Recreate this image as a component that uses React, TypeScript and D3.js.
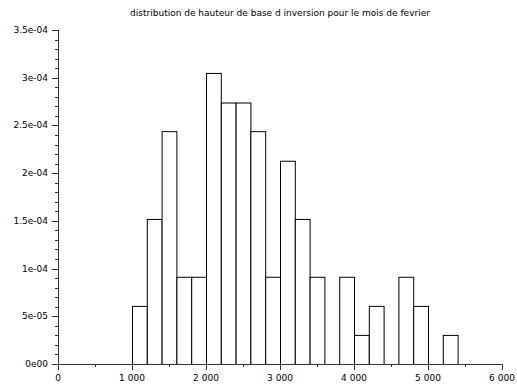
import React from "react";
import * as d3 from "d3";

const title = "distribution de hauteur de base d inversion pour le mois de fevrier";
const binStarts = [1000, 1200, 1400, 1600, 1800, 2000, 2200, 2400, 2600, 2800, 3000, 3200, 3400, 3600, 3800, 4000, 4200, 4400, 4600, 4800, 5000, 5200];
const densities = [6.09e-5, 1.52e-4, 2.44e-4, 9.14e-5, 9.14e-5, 3.05e-4, 2.74e-4, 2.74e-4, 2.44e-4, 9.14e-5, 2.13e-4, 1.52e-4, 9.14e-5, 0, 9.14e-5, 3.05e-5, 6.09e-5, 0, 9.14e-5, 6.09e-5, 0, 3.05e-5];
const binWidth = 200;
const xTicks = [0, 1000, 2000, 3000, 4000, 5000, 6000];
const xTickLabels = ["0", "1 000", "2 000", "3 000", "4 000", "5 000", "6 000"];
const yTicks = [0, 5e-5, 1e-4, 1.5e-4, 2e-4, 2.5e-4, 3e-4, 3.5e-4];
const yTickLabels = ["0e00", "5e-05", "1e-04", "1.5e-04", "2e-04", "2.5e-04", "3e-04", "3.5e-04"];

export default function App() {
  const W = 517, H = 390;
  const x = d3.scaleLinear().domain([0, 6000]).range([58, 502]);
  const y = d3.scaleLinear().domain([0, 3.5e-4]).range([364, 30]);
  const yMinor = d3.range(0, 36).map((i) => i * 1e-5).filter((_, i) => i % 5 !== 0);
  const xMinor = d3.range(0, 6).map((i) => i * 1000 + 500);
  const font = "DejaVu Sans, sans-serif";
  return (
    <svg width={W} height={H} style={{ position: "absolute", left: 0, top: 0, background: "#fff" }}>
      <rect x={0} y={0} width={W} height={H} fill="#fff" />
      <text x={280} y={16} textAnchor="middle" fontFamily={font} fontSize={9} fill="#000">{title}</text>
      {binStarts.map((b, i) =>
        densities[i] > 0 ? (
          <rect key={i} x={x(b) + 0.5} y={y(densities[i]) + 0.5} width={x(b + binWidth) - x(b)} height={y(0) - y(densities[i])}
            fill="#fff" stroke="#000" strokeWidth={1} />
        ) : null
      )}
      <line x1={58.5} x2={58.5} y1={30} y2={364.5} stroke="#333" />
      <line x1={58} x2={502.5} y1={364.5} y2={364.5} stroke="#333" />
      {yTicks.map((t, i) => (
        <g key={i}>
          <line x1={52} x2={58.5} y1={Math.round(y(t)) + 0.5} y2={Math.round(y(t)) + 0.5} stroke="#333" />
          <text x={48} y={y(t) + 3} textAnchor="end" fontFamily={font} fontSize={9} fill="#000">{yTickLabels[i]}</text>
        </g>
      ))}
      {yMinor.map((t, i) => (
        <line key={i} x1={55} x2={58.5} y1={Math.round(y(t)) + 0.5} y2={Math.round(y(t)) + 0.5} stroke="#333" />
      ))}
      {xTicks.map((t, i) => (
        <g key={i}>
          <line x1={Math.round(x(t)) + 0.5} x2={Math.round(x(t)) + 0.5} y1={364.5} y2={370} stroke="#333" />
          <text x={x(t)} y={381} textAnchor="middle" fontFamily={font} fontSize={9} fill="#000">{xTickLabels[i]}</text>
        </g>
      ))}
      {xMinor.map((t, i) => (
        <line key={i} x1={Math.round(x(t)) + 0.5} x2={Math.round(x(t)) + 0.5} y1={364.5} y2={367} stroke="#333" />
      ))}
    </svg>
  );
}
